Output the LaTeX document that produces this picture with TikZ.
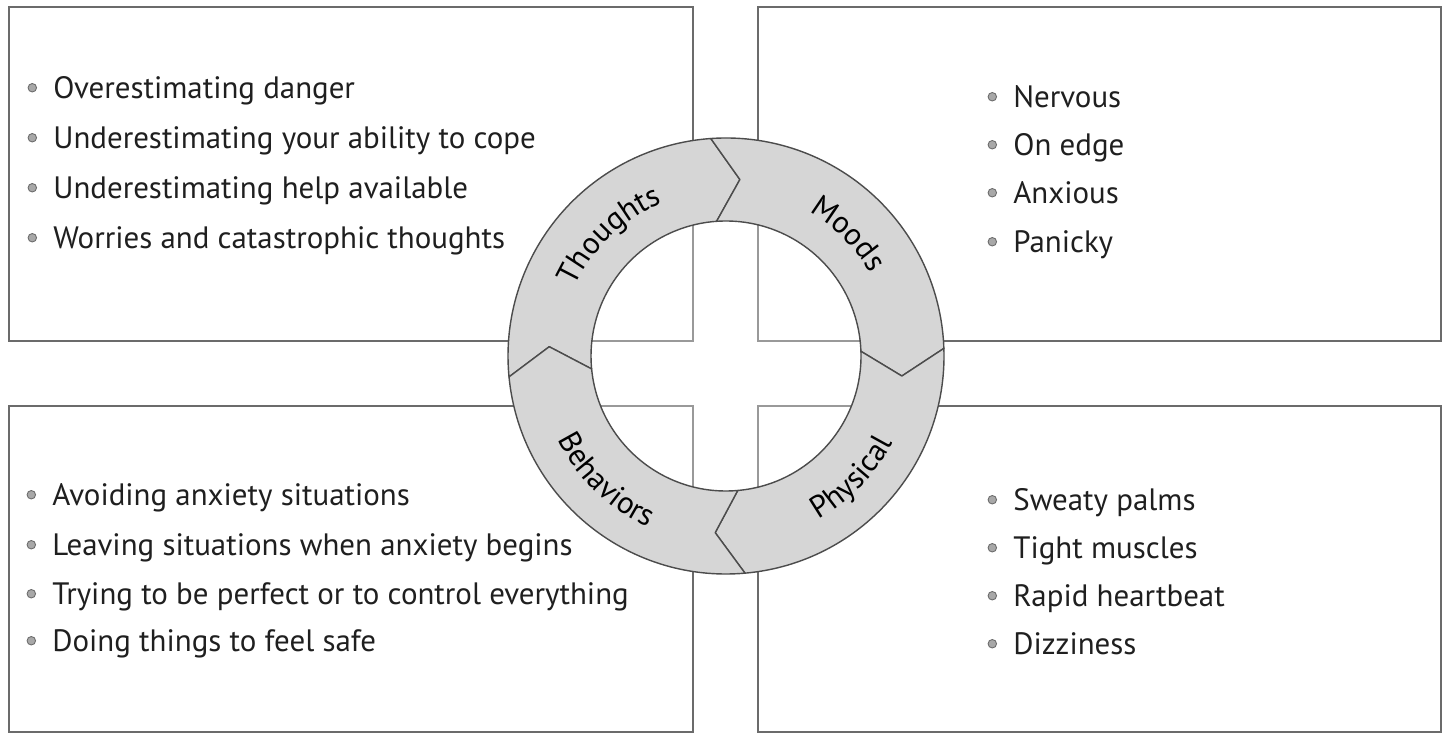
\documentclass[tikz,border=0pt]{standalone}
\usepackage{fontspec}
\setmainfont{PT Sans}
\usetikzlibrary{decorations.text}

\definecolor{boxline}{gray}{0.42}
\definecolor{innerline}{gray}{0.6}
\definecolor{ringfill}{gray}{0.84}
\definecolor{ringline}{gray}{0.3}
\definecolor{dotfill}{gray}{0.66}
\newcommand{\itemfont}{\fontsize{17.6}{21}\selectfont}

\tikzset{
  panel/.style={draw=boxline, line width=1.1pt},
  bullet/.style={circle, fill=dotfill, draw=boxline, line width=0.5pt, minimum size=0.17cm, inner sep=0pt},
  item/.style={anchor=base west, inner sep=0pt, text height=0.45cm, text depth=0pt,
    font=\itemfont, text=black!88, label={[bullet, xshift=-0.32cm]left:{}}},
  segment/.style={fill=ringfill, draw=ringline, line width=0.8pt, line join=round},
  ringtext/.style={decorate, decoration={text along path, text align=center, text={|\itemfont|#1}}}
}

\begin{document}
\begin{tikzpicture}[x=0.02cm, y=0.02cm]
	\useasboundingbox (0,0) rectangle (1447,736);

	% four panels
	\draw[panel] (9,729) rectangle (693,395);
	\draw[panel] (758,729) rectangle (1441,395);
	\draw[panel] (9,330) rectangle (693,4);
	\draw[panel] (758,330) rectangle (1441,4);

	% thoughts
	\node[item] (t1) at (53,637) {Overestimating danger};
	\node[item] (t2) at (53,587) {Underestimating your ability to cope};
	\node[item] (t3) at (53,537) {Underestimating help available};
	\node[item] (t4) at (53,487) {Worries and catastrophic thoughts};

	% moods
	\node[item] (m1) at (1013,628) {Nervous};
	\node[item] (m2) at (1013,580) {On edge};
	\node[item] (m3) at (1013,532) {Anxious};
	\node[item] (m4) at (1013,483) {Panicky};

	% behaviors
	\node[item] (b1) at (52,230) {Avoiding anxiety situations};
	\node[item] (b2) at (52,180) {Leaving situations when anxiety begins};
	\node[item] (b3) at (52,131) {Trying to be perfect or to control everything};
	\node[item] (b4) at (52,84) {Doing things to feel safe};

	% physical
	\node[item] (p1) at (1013,225) {Sweaty palms};
	\node[item] (p2) at (1013,177) {Tight muscles};
	\node[item] (p3) at (1013,129) {Rapid heartbeat};
	\node[item] (p4) at (1013,81) {Dizziness};

	% the ring, one chevron segment at a time
	\coordinate (ring) at (726,380);
	\foreach \a/\b in {185.5/94, 94/2, 2/-85, -85/-174.5}
		\draw[segment] ([shift={(\a:218)}]ring) arc[start angle=\a, end angle=\b, radius=218]
			-- ([shift={(\b-8.5:177)}]ring) -- ([shift={(\b:135)}]ring)
			arc[start angle=\b, end angle=\a, radius=135]
			-- ([shift={(\a-8.5:177)}]ring) -- cycle;

	% panel corners seen through the ring
	\begin{scope}
		\clip (ring) circle (134);
		\draw[panel, draw=innerline] (9,729) rectangle (693,395);
		\draw[panel, draw=innerline] (758,729) rectangle (1441,395);
		\draw[panel, draw=innerline] (9,330) rectangle (693,4);
		\draw[panel, draw=innerline] (758,330) rectangle (1441,4);
	\end{scope}

	\path[ringtext=Thoughts] ([shift={(169:166)}]ring) arc[start angle=169, end angle=99, radius=166];
	\path[ringtext=Moods] ([shift={(80:166)}]ring) arc[start angle=80, end angle=10, radius=166];
	\path[ringtext=Physical] ([shift={(-79:188)}]ring) arc[start angle=-79, end angle=-9, radius=188];
	\path[ringtext=Behaviors] ([shift={(-169:188)}]ring) arc[start angle=-169, end angle=-99, radius=188];
\end{tikzpicture}
\end{document}
